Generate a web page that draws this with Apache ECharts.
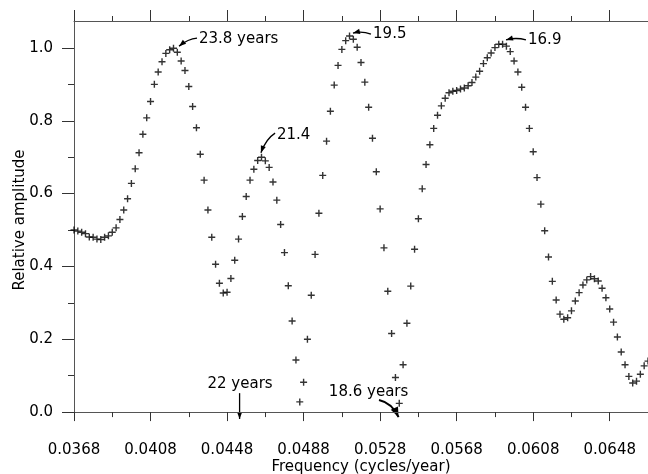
<!DOCTYPE html>
<html>
<head>
<meta charset="utf-8">
<title>Relative amplitude vs frequency</title>
<script src="https://cdn.jsdelivr.net/npm/echarts@6/dist/echarts.min.js"></script>
<style>
  html, body { margin: 0; padding: 0; background: #fff; }
  #chart { width: 648px; height: 474px; }
</style>
</head>
<body>
<div id="chart"></div>
<script>
// spectrum sampled every 0.0002 cycles/year from 0.0368
const freqStart = 0.0368;
const freqStep = 0.0002;
const amplitude = [
  0.500, 0.497, 0.494, 0.490, 0.481, 0.480, 0.475, 0.474, 0.480, 0.484,
  0.494, 0.506, 0.529, 0.555, 0.586, 0.628, 0.668, 0.712, 0.763, 0.808,
  0.853, 0.900, 0.934, 0.962, 0.985, 0.995, 0.999, 0.988, 0.964, 0.938,
  0.894, 0.839, 0.781, 0.708, 0.637, 0.555, 0.480, 0.406, 0.354, 0.327,
  0.329, 0.367, 0.417, 0.475, 0.537, 0.592, 0.637, 0.667, 0.691, 0.700,
  0.690, 0.672, 0.632, 0.582, 0.515, 0.438, 0.347, 0.250, 0.143, 0.028,
  0.082, 0.200, 0.321, 0.433, 0.546, 0.650, 0.744, 0.826, 0.898, 0.952,
  0.996, 1.020, 1.033, 1.024, 1.002, 0.960, 0.906, 0.837, 0.752, 0.660,
  0.558, 0.451, 0.332, 0.216, 0.095, 0.024, 0.130, 0.244, 0.346, 0.447,
  0.531, 0.613, 0.680, 0.734, 0.779, 0.815, 0.841, 0.862, 0.877, 0.881,
  0.883, 0.887, 0.890, 0.896, 0.905, 0.920, 0.936, 0.957, 0.973, 0.986,
  1.001, 1.010, 1.010, 1.005, 0.990, 0.964, 0.934, 0.892, 0.837, 0.779,
  0.715, 0.644, 0.571, 0.498, 0.426, 0.359, 0.308, 0.269, 0.255, 0.259,
  0.278, 0.305, 0.328, 0.349, 0.363, 0.372, 0.366, 0.360, 0.340, 0.314,
  0.283, 0.247, 0.206, 0.165, 0.130, 0.098, 0.080, 0.085, 0.104, 0.127,
  0.140
];

const xTickLabels = ['0.0368', '0.0408', '0.0448', '0.0488', '0.0528', '0.0568', '0.0608', '0.0648'];
const xMinorTicks = [0.0388, 0.0428, 0.0468, 0.0508, 0.0548, 0.0588, 0.0628];
const yTickLabels = ['0.0', '0.2', '0.4', '0.6', '0.8', '1.0'];
const yMinorTicks = [0.1, 0.3, 0.5, 0.7, 0.9];

// annotations: text anchor and arrow (start, control, tip) in data units
const notes = [
  { text: '23.8 years', at: [0.04333, 1.025], align: 'left',
    arrow: [[0.04323, 1.027], [0.04276, 1.025], [0.04229, 1.005]] },
  { text: '21.4', at: [0.04741, 0.761], align: 'left',
    arrow: [[0.04731, 0.766], [0.04683, 0.750], [0.04657, 0.712]] },
  { text: '19.5', at: [0.05243, 1.038], align: 'left',
    arrow: [[0.05232, 1.038], [0.05185, 1.047], [0.05138, 1.041]] },
  { text: '16.9', at: [0.06053, 1.022], align: 'left',
    arrow: [[0.06042, 1.022], [0.05990, 1.030], [0.05938, 1.022]] },
  { text: '22 years', at: [0.04548, 0.077], align: 'center',
    arrow: [[1 / 22, 0.052], [1 / 22, 0.020], [1 / 22, -0.019]] },
  { text: '18.6 years', at: [0.05012, 0.055], align: 'left', big: true,
    arrow: [[0.05274, 0.033], [0.05342, 0.025], [1 / 18.6, -0.014]] }
];

const xMin = 0.0368, xMax = 0.0668;
const yMin = -0.019, yMax = 1.074;
const font = 'DejaVu Sans';
const ink = '#000';

const points = amplitude.map((v, i) => [freqStart + i * freqStep, v]);
const xMajor = xTickLabels.map(Number);
const yMajor = yTickLabels.map(Number);

const plus = 'path://M28,0 L42,0 L42,28 L70,28 L70,42 L42,42 L42,70 L28,70 L28,42 L0,42 L0,28 L28,28 Z';

const hidden = { show: false };
const chart = echarts.init(document.getElementById('chart'));

const option = {
  backgroundColor: '#fff',
  animation: false,
  grid: { left: 74, right: 0, top: 21, bottom: 55, containLabel: false, outerBoundsMode: 'none' },
  xAxis: [
    {
      type: 'value', position: 'bottom', min: xMin, max: xMax,
      axisLine: { lineStyle: { color: '#555', width: 1 } },
      axisTick: { customValues: xMajor, length: 9, lineStyle: { color: '#333' } },
      axisLabel: {
        customValues: xMajor, formatter: v => v.toFixed(4), margin: 24,
        fontSize: 15, fontFamily: font, color: ink
      },
      splitLine: hidden,
      name: 'Frequency (cycles/year)', nameLocation: 'middle', nameGap: 41, nameMoveOverlap: false,
      nameTextStyle: { fontSize: 15, fontFamily: font, color: ink }
    },
    {
      type: 'value', position: 'bottom', min: xMin, max: xMax,
      axisLine: hidden, axisLabel: hidden, splitLine: hidden,
      axisTick: { customValues: xMinorTicks, length: 5, lineStyle: { color: '#333' } }
    },
    {
      type: 'value', position: 'top', min: xMin, max: xMax,
      axisLine: { lineStyle: { color: '#555', width: 1 } },
      axisTick: { customValues: xMajor, length: 11, lineStyle: { color: '#333' } },
      axisLabel: hidden, splitLine: hidden
    },
    {
      type: 'value', position: 'top', min: xMin, max: xMax,
      axisLine: hidden, axisLabel: hidden, splitLine: hidden,
      axisTick: { customValues: xMinorTicks, length: 5, lineStyle: { color: '#333' } }
    }
  ],
  yAxis: [
    {
      type: 'value', position: 'left', min: yMin, max: yMax,
      axisLine: { show: true, lineStyle: { color: '#555', width: 1 } },
      axisTick: { show: true, customValues: yMajor, length: 12, lineStyle: { color: '#333' } },
      axisLabel: {
        customValues: yMajor, formatter: v => v.toFixed(1), margin: 21,
        fontSize: 15, fontFamily: font, color: ink
      },
      splitLine: hidden,
      name: 'Relative amplitude', nameLocation: 'middle', nameGap: 46, nameRotate: 90,
      nameMoveOverlap: false,
      nameTextStyle: { fontSize: 15, fontFamily: font, color: ink }
    },
    {
      type: 'value', position: 'left', min: yMin, max: yMax,
      axisLine: hidden, axisLabel: hidden, splitLine: hidden,
      axisTick: { show: true, customValues: yMinorTicks, length: 6, lineStyle: { color: '#333' } }
    }
  ],
  series: [
    {
      type: 'scatter',
      xAxisIndex: 0,
      yAxisIndex: 0,
      data: points,
      symbol: plus,
      symbolSize: 7,
      itemStyle: { color: '#000' }
    }
  ]
};

chart.setOption(option);

// draw the annotation labels and arrows
const toPx = p => chart.convertToPixel({ xAxisIndex: 0, yAxisIndex: 0 }, p);
const graphics = [];
notes.forEach(n => {
  const t = toPx(n.at);
  graphics.push({
    type: 'text', x: t[0], y: t[1],
    style: { text: n.text, fill: ink, font: '15px "' + font + '"', align: n.align, verticalAlign: 'middle' }
  });
  const s = toPx(n.arrow[0]), c = toPx(n.arrow[1]), e = toPx(n.arrow[2]);
  graphics.push({
    type: 'bezierCurve',
    shape: { x1: s[0], y1: s[1], cpx1: c[0], cpy1: c[1], x2: e[0], y2: e[1] },
    style: { stroke: ink, lineWidth: n.big ? 2 : 1.3, fill: null }
  });
  const dx = e[0] - c[0], dy = e[1] - c[1];
  const len = Math.hypot(dx, dy) || 1;
  const ux = dx / len, uy = dy / len;
  const L = n.big ? 10 : 7, W = n.big ? 4 : 2.6;
  graphics.push({
    type: 'polygon',
    shape: {
      points: [
        [e[0], e[1]],
        [e[0] - ux * L - uy * W, e[1] - uy * L + ux * W],
        [e[0] - ux * L + uy * W, e[1] - uy * L - ux * W]
      ]
    },
    style: { fill: ink }
  });
});
chart.setOption({ graphic: graphics });
</script>
</body>
</html>
